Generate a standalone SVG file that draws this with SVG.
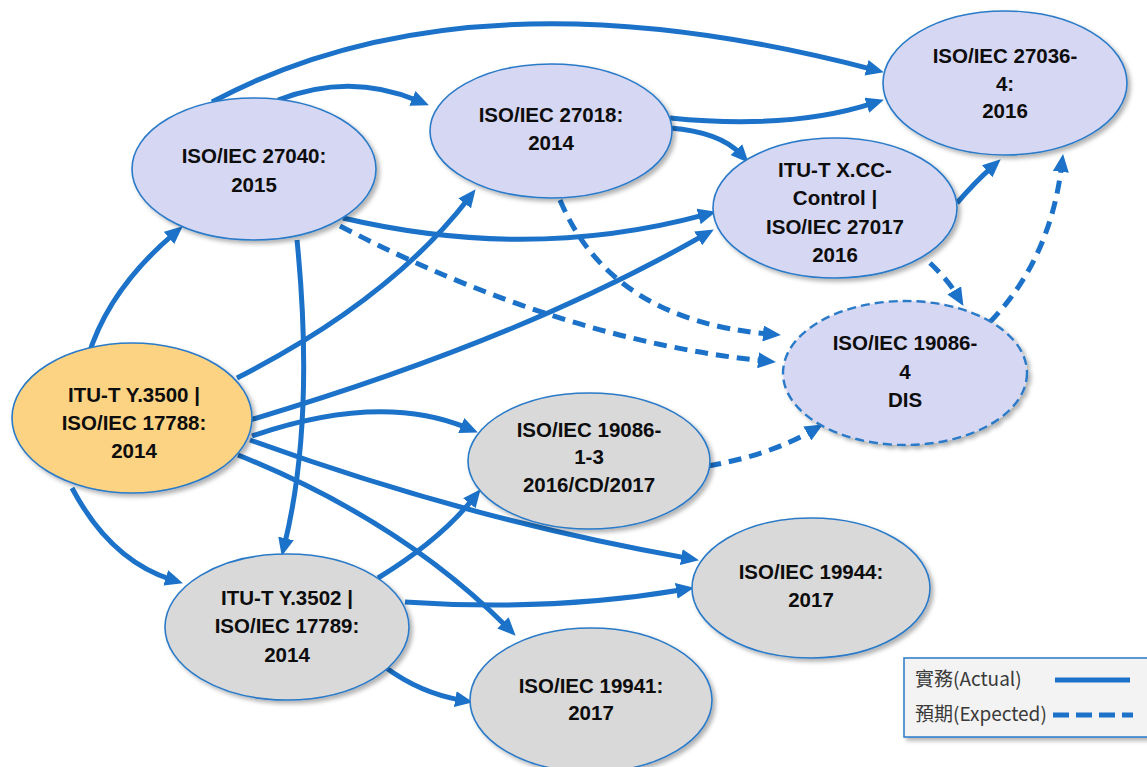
<svg xmlns="http://www.w3.org/2000/svg" width="1147" height="767" viewBox="0 0 1147 767">
  <style>
    .node { stroke: #2A7AC8; stroke-width: 1.6; filter: url(#shadow); }
    .std { fill: #D6D7F3; }
    .grey { fill: #D9D9D9; }
    .core { fill: #FCD383; }
    .dis { stroke-dasharray: 9 5; stroke-width: 2.4; }
    .label { font-family: "Liberation Sans", Arial, sans-serif; font-weight: bold; font-size: 20.5px; fill: #0D0D0D; text-anchor: middle; }
    .conn { fill: none; stroke: #1B72C8; stroke-width: 5; }
    .actual { marker-end: url(#arrow); }
    .expected { stroke-dasharray: 13 8; marker-end: url(#arrow); }
    .legend-text { font-family: "Noto Sans CJK TC", "Noto Sans", sans-serif; font-size: 19px; fill: #3A3A3A; }
  </style>
  <defs>
    <filter id="shadow" x="-10%" y="-10%" width="125%" height="130%">
      <feDropShadow dx="3" dy="3" stdDeviation="2" flood-color="#000000" flood-opacity="0.3"/>
    </filter>
    <marker id="arrow" markerUnits="userSpaceOnUse" viewBox="0 0 18 16" markerWidth="18" markerHeight="16" refX="6" refY="8" orient="auto">
      <path d="M0,0 L18,8 L0,16 z" fill="#1B72C8"/>
    </marker>
  </defs>

  <rect width="1147" height="767" fill="#FFFFFF"/>

  <!-- connectors -->
  <g id="connectors">
    <!-- from ITU-T Y.3500 -->
    <path class="conn actual" d="M88,357 Q108,290 173.6,234.1"/>
    <path class="conn actual" d="M237,378 Q390,300 468.3,198.7"/>
    <path class="conn actual" d="M250,420 Q520,340 703.4,235.4"/>
    <path class="conn actual" d="M252,436 Q380,392 466.8,427.8"/>
    <path class="conn actual" d="M250,440 Q470,520 687.2,558.1"/>
    <path class="conn actual" d="M238,455 Q400,520 507.2,627.2"/>
    <path class="conn actual" d="M72,488 Q110,560 171.5,579.7"/>
    <!-- from ISO/IEC 27040 -->
    <path class="conn actual" d="M212,102 Q470,-36 872.3,69.3"/>
    <path class="conn actual" d="M278,100 Q350,72 417.9,100.7"/>
    <path class="conn actual" d="M343,218 Q530,262 704.4,214.9"/>
    <path class="conn expected" d="M340,226 Q560,340 764,360.9"/>
    <path class="conn actual" d="M297,240 Q315,420 284.6,544.3"/>
    <!-- from ISO/IEC 27018 -->
    <path class="conn actual" d="M670,118 Q790,130 872.5,103.4"/>
    <path class="conn actual" d="M670,128 Q720,132 740.5,154"/>
    <path class="conn expected" d="M560,200 Q610,320 769,334"/>
    <!-- from ITU-T X.CC-Control -->
    <path class="conn actual" d="M957,203 Q975,182 991.7,167.3"/>
    <path class="conn expected" d="M930,263 Q948,280 957.3,295.6"/>
    <!-- from ISO/IEC 19086-4 -->
    <path class="conn expected" d="M990,322 Q1050,260 1061.6,165.9"/>
    <!-- from ISO/IEC 19086-1-3 -->
    <path class="conn expected" d="M708,466 Q770,455 812.5,430.5"/>
    <!-- from ITU-T Y.3502 -->
    <path class="conn actual" d="M378,578 Q440,540 473.1,498.6"/>
    <path class="conn actual" d="M405,602 Q550,612 682.2,589.8"/>
    <path class="conn actual" d="M385,667 Q420,693 461.2,700.1"/>
  </g>

  <!-- nodes -->
  <g id="n-27040">
    <ellipse class="node std" cx="254" cy="169" rx="122" ry="71"/>
    <text class="label" x="254" y="163">ISO/IEC 27040:</text>
    <text class="label" x="254" y="191.5">2015</text>
  </g>
  <g id="n-27018">
    <ellipse class="node std" cx="551" cy="131" rx="121" ry="67"/>
    <text class="label" x="551" y="121.5">ISO/IEC 27018:</text>
    <text class="label" x="551" y="150">2014</text>
  </g>
  <g id="n-27036-4">
    <ellipse class="node std" cx="1005" cy="83" rx="122" ry="72"/>
    <text class="label" x="1005" y="63">ISO/IEC 27036-</text>
    <text class="label" x="1005" y="90.5">4:</text>
    <text class="label" x="1005" y="118">2016</text>
  </g>
  <g id="n-27017">
    <ellipse class="node std" cx="835" cy="208" rx="122" ry="70"/>
    <text class="label" x="835" y="176.5">ITU-T X.CC-</text>
    <text class="label" x="835" y="205">Control |</text>
    <text class="label" x="835" y="233.5">ISO/IEC 27017</text>
    <text class="label" x="835" y="261.5">2016</text>
  </g>
  <g id="n-19086-4">
    <ellipse class="node std dis" cx="905" cy="373" rx="122" ry="72"/>
    <text class="label" x="905" y="350">ISO/IEC 19086-</text>
    <text class="label" x="905" y="379">4</text>
    <text class="label" x="905" y="406.5">DIS</text>
  </g>
  <g id="n-y3500">
    <ellipse class="node core" cx="132" cy="418" rx="120" ry="75"/>
    <text class="label" x="134" y="401.5">ITU-T Y.3500 |</text>
    <text class="label" x="134" y="430">ISO/IEC 17788:</text>
    <text class="label" x="134" y="458">2014</text>
  </g>
  <g id="n-19086-1-3">
    <ellipse class="node grey" cx="589" cy="461" rx="121" ry="68"/>
    <text class="label" x="589" y="436.5">ISO/IEC 19086-</text>
    <text class="label" x="589" y="464">1-3</text>
    <text class="label" x="589" y="491.5">2016/CD/2017</text>
  </g>
  <g id="n-19944">
    <ellipse class="node grey" cx="811" cy="588" rx="119" ry="70"/>
    <text class="label" x="811" y="579">ISO/IEC 19944:</text>
    <text class="label" x="811" y="607">2017</text>
  </g>
  <g id="n-y3502">
    <ellipse class="node grey" cx="287" cy="627" rx="122" ry="73"/>
    <text class="label" x="287" y="605">ITU-T Y.3502 |</text>
    <text class="label" x="287" y="633">ISO/IEC 17789:</text>
    <text class="label" x="287" y="661.5">2014</text>
  </g>
  <g id="n-19941">
    <ellipse class="node grey" cx="591" cy="700" rx="121" ry="72"/>
    <text class="label" x="591" y="692.5">ISO/IEC 19941:</text>
    <text class="label" x="591" y="720">2017</text>
  </g>

  <!-- legend -->
  <g id="legend">
    <rect x="904" y="658" width="250" height="79" fill="#F3F3F3" stroke="#2A7AC8" stroke-width="1.5" filter="url(#shadow)"/>
    <text class="legend-text" x="915" y="686">實務(Actual)</text>
    <line x1="1055" y1="680" x2="1130" y2="680" stroke="#1B72C8" stroke-width="5"/>
    <text class="legend-text" x="915" y="721">預期(Expected)</text>
    <line x1="1053" y1="715" x2="1133" y2="715" stroke="#1B72C8" stroke-width="5" stroke-dasharray="16 7"/>
  </g>
</svg>
